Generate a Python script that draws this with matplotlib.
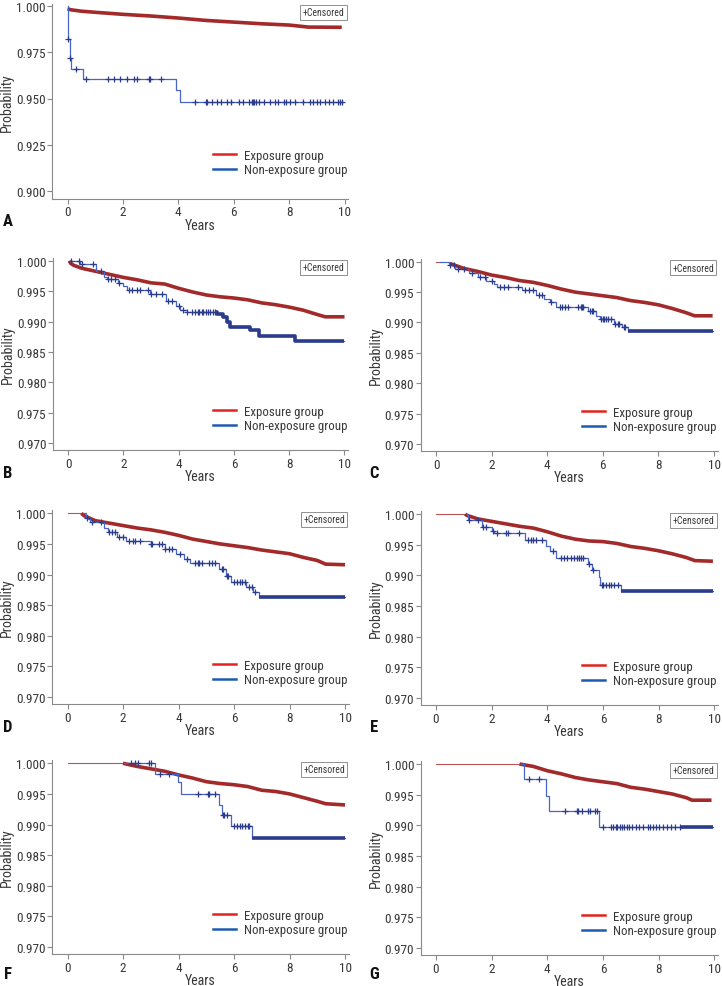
import numpy as np
import matplotlib
matplotlib.use('Agg')
from matplotlib import pyplot as plt
from matplotlib import font_manager as fm
from matplotlib.lines import Line2D

# ---- font: narrow sans if available
avail = {f.name for f in fm.fontManager.ttflist}
STRETCH = 'normal'
SCALE = 1.0
if 'Liberation Sans Narrow' in avail:
    FONT = 'Liberation Sans Narrow'
elif 'Roboto Condensed' in avail:
    FONT = 'Roboto Condensed'
elif any(f.name == 'DejaVu Sans' and 'condensed' in str(f.stretch) for f in fm.fontManager.ttflist):
    FONT = 'DejaVu Sans'
    STRETCH = 'condensed'
    SCALE = 0.85
else:
    FONT = 'Roboto'
    SCALE = 0.82
plt.rcParams['font.family'] = [FONT, 'DejaVu Sans']
plt.rcParams['font.stretch'] = STRETCH

TXT = '#383838'
SPINE = '#8a8a8a'
EXP_C = '#a32a2a'
NON_LINE = '#4a66c4'
NON_MARK = '#2b3c8c'

# ---- data
A_exp_t = [0.0, 0.1, 0.5, 1, 2, 3, 4, 5, 6, 7, 8, 8.7, 9.9]
A_exp_s = [0.9986, 0.9980, 0.9972, 0.9966, 0.9955, 0.9946, 0.9935, 0.9922, 0.9913, 0.9904, 0.9897, 0.9886, 0.9885]
A_non_t = [0.0, 0.03, 0.08, 0.12, 0.55, 3.9, 4.05, 9.95]
A_non_s = [1.0, 0.9823, 0.9718, 0.9660, 0.9604, 0.9546, 0.9483, 0.9483]
A_non_cens = [0.03, 0.1, 0.32, 0.66, 1.47, 1.68, 1.88, 2.15, 2.4, 2.5, 2.95, 2.98, 3.37,
              4.6, 5.0, 5.05, 5.2, 5.4, 5.55, 5.75, 5.9, 6.2, 6.35, 6.55, 6.65, 6.7, 6.75,
              6.8, 6.9, 7.1, 7.3, 7.5, 7.6, 7.8, 7.9, 8.05, 8.2, 8.5, 8.75, 8.85, 9.0, 9.1,
              9.3, 9.45, 9.6, 9.75, 9.85, 9.9]

B_exp_t = [0.05, 0.1, 0.2, 0.5, 1, 1.5, 2, 2.5, 3, 3.5, 4, 4.5, 5, 5.5, 6, 6.5, 7, 7.5, 8, 8.5, 9, 9.3, 10]
B_exp_s = [1.0, 0.9996, 0.9993, 0.9988, 0.9983, 0.9978, 0.9973, 0.9969, 0.9964, 0.9962, 0.9955,
           0.9949, 0.9944, 0.9941, 0.9939, 0.9936, 0.9931, 0.9928, 0.9924, 0.9919, 0.9912, 0.9908, 0.9908]
B_non_t = [0.05, 0.45, 1.0, 1.3, 1.4, 1.8, 2.0, 2.15, 2.95, 3.55, 3.9, 4.05, 4.3, 5.4, 5.6, 5.75,
           5.85, 6.6, 6.9, 8.2, 10.0]
B_non_s = [1.0, 0.9995, 0.9984, 0.9974, 0.9970, 0.9964, 0.9959, 0.9952, 0.9945, 0.9934, 0.9926,
           0.9920, 0.9916, 0.9912, 0.9907, 0.9899, 0.9892, 0.9886, 0.9876, 0.9868, 0.9868]
B_non_cens = [0.1, 0.4, 0.5, 0.9, 1.2, 1.45, 1.55, 1.7, 1.85, 2.2, 2.3, 2.5, 2.6, 2.9, 3.0, 3.2,
              3.4, 3.6, 3.75, 4.0, 4.15, 4.3, 4.5, 4.6, 4.7, 4.75, 4.85, 4.9, 5.0, 5.05, 5.15,
              5.25, 5.3]

C_exp_t = [0.0, 0.15, 0.5, 1.0, 1.5, 2.0, 2.5, 3.0, 3.5, 4.0, 4.5, 5.0, 5.5, 6.0, 6.5, 7.0, 7.5,
           8.0, 8.5, 9.0, 9.3, 9.95]
C_exp_s = [1.0, 1.0, 0.9997, 0.9989, 0.9984, 0.9978, 0.9974, 0.9969, 0.9966, 0.9961, 0.9955,
           0.9950, 0.9947, 0.9944, 0.9941, 0.9936, 0.9933, 0.9929, 0.9923, 0.9916, 0.9911, 0.9911]
C_non_t = [0.15, 0.45, 0.7, 1.2, 1.5, 1.8, 2.1, 2.2, 3.1, 3.6, 3.9, 4.1, 4.3, 5.45, 5.75, 5.9,
           6.4, 6.7, 6.9, 9.95]
C_non_s = [1.0, 0.9995, 0.9988, 0.9981, 0.9974, 0.9969, 0.9963, 0.9958, 0.9953, 0.9945, 0.9939,
           0.9933, 0.9926, 0.9919, 0.9911, 0.9906, 0.9897, 0.9893, 0.9886, 0.9886]
C_non_cens = [0.5, 0.65, 0.8, 1.0, 1.3, 1.6, 1.75, 2.0, 2.3, 2.45, 2.6, 2.95, 3.2, 3.35, 3.5,
              3.7, 3.8, 4.15, 4.45, 4.55, 4.65, 4.75, 5.1, 5.2, 5.25, 5.3, 5.55, 5.6, 5.65,
              5.95, 6.0, 6.05, 6.1, 6.2, 6.3, 6.45, 6.55, 6.6, 6.75, 6.8]

D_exp_t = [0.0, 0.5, 0.6, 1.0, 1.5, 2.0, 2.5, 3.0, 3.5, 4.0, 4.5, 5.0, 5.5, 6.0, 6.5, 7.0, 7.5,
           8.0, 8.5, 9.0, 9.3, 10.0]
D_exp_s = [1.0, 1.0, 0.9996, 0.9988, 0.9984, 0.9980, 0.9976, 0.9973, 0.9969, 0.9964, 0.9958,
           0.9954, 0.9950, 0.9947, 0.9944, 0.9940, 0.9937, 0.9934, 0.9928, 0.9923, 0.9917, 0.9916]
D_non_t = [0.55, 0.65, 0.8, 1.3, 1.45, 1.8, 2.1, 3.0, 3.5, 3.9, 4.2, 4.4, 5.45, 5.7, 5.9, 6.45,
           6.7, 6.9, 10.0]
D_non_s = [1.0, 0.9993, 0.9985, 0.9976, 0.9970, 0.9962, 0.9955, 0.9950, 0.9942, 0.9934, 0.9925,
           0.9919, 0.9909, 0.9897, 0.9888, 0.9879, 0.9871, 0.9863, 0.9863]
D_non_cens = [0.7, 0.9, 1.2, 1.5, 1.6, 1.7, 1.85, 2.0, 2.2, 2.35, 2.45, 2.6, 3.0, 3.05, 3.3, 3.4,
              3.5, 3.65, 3.75, 4.05, 4.3, 4.6, 4.7, 4.75, 4.85, 5.1, 5.2, 5.3, 5.55, 5.6, 5.75,
              5.8, 6.0, 6.1, 6.2, 6.3, 6.4, 6.55, 6.65, 6.75]

E_exp_t = [0.0, 1.05, 1.1, 1.5, 2.0, 2.5, 3.0, 3.5, 4.0, 4.5, 5.0, 5.5, 6.0, 6.5, 7.0, 7.5, 8.0,
           8.5, 9.0, 9.3, 9.95]
E_exp_s = [1.0, 1.0, 0.9998, 0.9992, 0.9988, 0.9984, 0.9980, 0.9977, 0.9971, 0.9964, 0.9959,
           0.9956, 0.9955, 0.9952, 0.9947, 0.9944, 0.9940, 0.9935, 0.9929, 0.9924, 0.9923]
E_non_t = [1.1, 1.15, 1.65, 2.0, 2.1, 3.2, 3.95, 4.1, 4.3, 5.45, 5.6, 5.85, 5.9, 6.65, 9.95]
E_non_s = [1.0, 0.9991, 0.9978, 0.9973, 0.9969, 0.9958, 0.9948, 0.9939, 0.9928, 0.9918, 0.9908,
           0.9897, 0.9885, 0.9875, 0.9875]
E_non_cens = [1.2, 1.5, 1.7, 1.8, 2.05, 2.2, 2.5, 2.6, 3.0, 3.3, 3.4, 3.5, 3.6, 3.8, 4.2, 4.5,
              4.6, 4.7, 4.85, 4.95, 5.05, 5.15, 5.2, 5.3, 5.5, 5.65, 5.95, 6.0, 6.1, 6.2, 6.3,
              6.4, 6.55]

F_exp_t = [0.0, 2.0, 2.5, 3.0, 3.5, 4.0, 4.5, 5.0, 5.5, 6.0, 6.5, 7.0, 7.5, 8.0, 8.5, 9.0, 9.3, 10.0]
F_exp_s = [1.0, 1.0, 0.9995, 0.9991, 0.9987, 0.9981, 0.9976, 0.9970, 0.9967, 0.9965, 0.9962,
           0.9956, 0.9954, 0.9950, 0.9944, 0.9938, 0.9934, 0.9932]
F_non_t = [2.05, 3.15, 3.97, 4.1, 5.45, 5.55, 5.9, 6.65, 10.0]
F_non_s = [1.0, 0.9983, 0.9969, 0.9950, 0.9932, 0.9915, 0.9897, 0.9878, 0.9878]
F_non_cens = [2.3, 2.45, 2.55, 2.95, 3.0, 3.35, 3.65, 4.7, 5.05, 5.1, 5.3, 5.6, 5.65, 5.75, 6.0,
              6.1, 6.2, 6.3, 6.4, 6.5, 6.55]

G_exp_t = [0.0, 3.0, 3.5, 4.0, 4.5, 5.0, 5.5, 6.0, 6.5, 7.0, 7.5, 8.0, 8.5, 9.0, 9.2, 9.9]
G_exp_s = [1.0, 1.0, 0.9996, 0.9989, 0.9984, 0.9978, 0.9974, 0.9971, 0.9968, 0.9962, 0.9959,
           0.9955, 0.9951, 0.9945, 0.9941, 0.9941]
G_non_t = [3.05, 3.15, 3.95, 4.05, 5.85, 9.95]
G_non_s = [1.0, 0.9975, 0.9948, 0.9924, 0.9898, 0.9898]
G_non_cens = [3.35, 3.7, 4.65, 5.05, 5.1, 5.25, 5.45, 5.55, 5.7, 5.8, 6.0, 6.3, 6.35, 6.45, 6.5,
              6.6, 6.7, 6.75, 6.85, 6.95, 7.05, 7.2, 7.3, 7.45, 7.6, 7.7, 7.8, 7.9, 8.0, 8.15,
              8.3, 8.45, 8.6, 8.75]

# time from which censoring is so dense that the curve reads as a thick band
EXP_BAND = {'A': 0.0, 'B': 0.05, 'C': 0.2, 'D': 0.5, 'E': 1.05, 'F': 2.0, 'G': 3.0}
NON_BAND = {'A': None, 'B': 5.3, 'C': 6.9, 'D': 6.9, 'E': 6.65, 'F': 6.65, 'G': 8.8}

PANELS = {
    'A': (A_exp_t, A_exp_s, A_non_t, A_non_s, A_non_cens),
    'B': (B_exp_t, B_exp_s, B_non_t, B_non_s, B_non_cens),
    'C': (C_exp_t, C_exp_s, C_non_t, C_non_s, C_non_cens),
    'D': (D_exp_t, D_exp_s, D_non_t, D_non_s, D_non_cens),
    'E': (E_exp_t, E_exp_s, E_non_t, E_non_s, E_non_cens),
    'F': (F_exp_t, F_exp_s, F_non_t, F_non_s, F_non_cens),
    'G': (G_exp_t, G_exp_s, G_non_t, G_non_s, G_non_cens),
}

# layout, in pixels: x of 0 and 10, y of top and bottom tick values
W, H = 722, 987
LAYOUT = {
    'A': (67.5, 344.5, 7.0, 192.0),
    'B': (68.0, 344.5, 262.0, 444.0),
    'C': (436.0, 714.0, 262.7, 445.0),
    'D': (67.5, 345.0, 514.3, 698.0),
    'E': (436.0, 714.3, 515.0, 699.0),
    'F': (67.5, 345.0, 764.3, 948.0),
    'G': (436.0, 714.3, 765.0, 949.0),
}
LETTER_POS = {'A': (8, 221), 'B': (8, 474), 'C': (374, 474), 'D': (8, 727),
              'E': (374, 727), 'F': (8, 975), 'G': (374, 975)}
XLIM = (-0.55, 10.13)

fig = plt.figure(figsize=(W / 100, H / 100), dpi=100)


def step_value(t, s, x):
    i = np.searchsorted(t, x, side='right') - 1
    return np.asarray(s)[np.clip(i, 0, len(s) - 1)]


for key, (et, es, nt, ns, ncens) in PANELS.items():
    x0px, x10px, ytop_px, ybot_px = LAYOUT[key]
    if key == 'A':
        yticks = [0.900, 0.925, 0.950, 0.975, 1.000]
        ylim = (0.8957, 1.0011)
    else:
        yticks = [0.970, 0.975, 0.980, 0.985, 0.990, 0.995, 1.000]
        ylim = (0.96885, 1.0005)
    sx = (x10px - x0px) / 10.0
    sy = (ybot_px - ytop_px) / (yticks[-1] - yticks[0])
    left = x0px + XLIM[0] * sx
    right = x0px + XLIM[1] * sx
    top = ytop_px - (ylim[1] - yticks[-1]) * sy
    bottom = ybot_px + (yticks[0] - ylim[0]) * sy
    ax = fig.add_axes([left / W, 1 - bottom / H, (right - left) / W, (bottom - top) / H])
    ax.set_xlim(*XLIM)
    ax.set_ylim(*ylim)

    # exposure group
    et = np.array(et)
    es = np.array(es)
    b = EXP_BAND[key]
    pre = et <= b
    if pre.sum() > 1:
        ax.plot(et[pre], es[pre], color=EXP_C, lw=0.8, alpha=0.8, zorder=3)
    post = et >= b
    ax.plot(et[post], es[post], color=EXP_C, lw=2.6, solid_capstyle='butt', zorder=4)

    # non-exposure group
    nt = np.array(nt)
    ns = np.array(ns)
    ax.step(nt, ns, where='post', color=NON_LINE, lw=0.9, zorder=5)
    cs = step_value(nt, ns, ncens)
    ax.plot(ncens, cs, ls='none', marker='+', ms=4.0, mew=0.9, color=NON_MARK, zorder=6)
    nb = NON_BAND[key]
    if nb is not None:
        m = nt >= nb
        bt = np.concatenate([[nb], nt[m]])
        bs = np.concatenate([[step_value(nt, ns, nb)], ns[m]])
        ax.step(bt, bs, where='post', color=NON_MARK, lw=2.6, solid_capstyle='butt', zorder=6)

    # axes styling
    for sp in ['top', 'right']:
        ax.spines[sp].set_visible(False)
    for sp in ['left', 'bottom']:
        ax.spines[sp].set_color(SPINE)
        ax.spines[sp].set_linewidth(0.8)
    ax.set_xticks([0, 2, 4, 6, 8, 10])
    ax.set_yticks(yticks)
    ax.set_yticklabels([f'{v:.3f}' for v in yticks])
    ax.tick_params(colors=SPINE, labelcolor=TXT, labelsize=9.5 * SCALE, length=3.5,
                   width=0.8, pad=1.2)
    ax.set_xlabel('Years', fontsize=10 * SCALE, color=TXT, labelpad=-0.5)
    ax.set_ylabel('Probability', fontsize=10 * SCALE, color=TXT, labelpad=1.5)

    # censored note
    ax.text(10.0, yticks[-1] - 1.2 / sy, '+Censored', ha='right', va='top',
            fontsize=7.0 * SCALE, color=TXT, zorder=8,
            bbox=dict(boxstyle='square,pad=0.25', fc='white', ec='#909090', lw=0.7))

    # legend
    handles = [Line2D([], [], color='#e3231f', lw=1.8),
               Line2D([], [], color='#1e5ab4', lw=1.8)]
    leg_y = yticks[0] + (24.5 / sy if key != 'A' else 28.5 / sy)
    ax.legend(handles, ['Exposure group', 'Non-exposure group'], loc='center left',
              bbox_to_anchor=(5.25, leg_y), bbox_transform=ax.transData,
              frameon=False, borderpad=0, borderaxespad=0, handlelength=1.75,
              handletextpad=0.65, labelspacing=0.12, fontsize=9.3 * SCALE,
              labelcolor=TXT)

    lx, ly = LETTER_POS[key]
    fig.text(lx / W, 1 - ly / H, key, ha='center', va='center', fontsize=12 * SCALE,
             fontweight='bold', color='#111111')

fig.savefig('out.png', dpi=100)
